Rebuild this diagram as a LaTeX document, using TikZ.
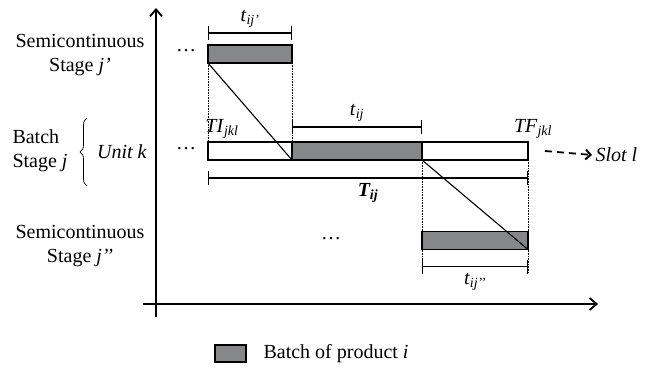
\documentclass[tikz,border=0pt]{standalone}
\usepackage{fontspec}
\setmainfont{Liberation Serif}
\usetikzlibrary{arrows.meta,decorations.pathreplacing,positioning}
\definecolor{batchgrey}{RGB}{133,135,136}
\newcommand{\sbs}[1]{\textsubscript{\textit{#1}}}

\begin{document}
\begin{tikzpicture}[x=1pt, y=1pt, font=\fontsize{20}{24}\selectfont,
    bar/.style={draw, line width=1.4pt, minimum height=18pt, inner sep=0pt, outer sep=0pt},
    span/.style={line width=1.4pt, {Bar[width=14pt]}-{Bar[width=14pt]}},
    guide/.style={densely dotted, line width=0.6pt},
    link/.style={line width=1.1pt},
    axis/.style={line width=1.8pt, -{Straight Barb[length=7pt, width=12pt, line width=1.8pt]}}]
  \useasboundingbox (0,0) rectangle (658,367);
  % axes
  \coordinate (ybot) at (156,50);
  \coordinate (ytop) at (156,359);
  \coordinate (xleft) at (143,63);
  \coordinate (xright) at (598,63);
  \draw[axis] (ybot) -- (ytop);
  \draw[axis] (xleft) -- (xright);
  % stage labels
  \node[align=center] (semitop) at (80,312) {Semicontinuous\\Stage \textit{j’}};
  \node[align=left] (batchst) at (40,216) {Batch\\Stage \textit{j}};
  \node[align=center] (semibot) at (80,121) {Semicontinuous\\Stage \textit{j’’}};
  \node (unit) at (122,215) {\textit{Unit k}};
  \draw[line width=0.7pt, decorate, decoration={brace, amplitude=7pt}]
    (87,181) -- (87,249);
  % bars
  \node[bar, fill=batchgrey, minimum width=84pt] (topbar) at (250,313) {};
  \node[bar, minimum width=84pt] (batchL) at (250,216) {};
  \node[bar, fill=batchgrey, minimum width=130pt] (batchM) at (357,216) {};
  \node[bar, minimum width=106pt] (batchR) at (475,216) {};
  \node[bar, fill=batchgrey, minimum width=106pt] (botbar) at (475,126.5) {};
  % dots
  \node (dotsA) at (186,316) {\dots};
  \node (dotsB) at (186,218) {\dots};
  \node (dotsC) at (331,128) {\dots};
  % guides
  \draw[guide] (topbar.south west) -- (batchL.north west);
  \draw[guide] (topbar.south east) -- (batchM.north west);
  \draw[guide] (batchM.south east) -- ([yshift=-24pt]botbar.south west);
  \draw[guide] (batchR.south east) -- ([yshift=-24pt]botbar.south east);
  % transfers
  \draw[link] (topbar.south west) -- (batchM.south west);
  \draw[link] (batchM.south east) -- (botbar.south east);
  % durations
  \draw[span] ([yshift=12pt]topbar.north west) -- ([yshift=12pt]topbar.north east)
    node[midway, above=1pt] (tj1) {\textit{t}\sbs{ij’}};
  \draw[span] ([yshift=15pt]batchM.north west) -- ([yshift=15pt]batchM.north east)
    node[midway, above=1pt] (tj) {\textit{t}\sbs{ij}};
  \draw[span] ([yshift=-18pt]batchL.south west) -- ([yshift=-18pt]batchR.south east)
    node[midway, below=1pt] (Tij) {\textbf{\textit{T\textsubscript{ij}}}};
  \draw[span] ([yshift=-17pt]botbar.south west) -- ([yshift=-17pt]botbar.south east)
    node[midway, below=3pt] (tj2) {\textit{t}\sbs{ij’’}};
  \node (ti) at (222,238) {\textit{TI}\sbs{jkl}};
  \node (tf) at (533,238) {\textit{TF}\sbs{jkl}};
  % slot
  \node[anchor=west] (slot) at (592,212) {\textit{Slot l}};
  \draw[line width=1.8pt, dash pattern=on 7pt off 5pt,
    -{Straight Barb[length=5pt, width=10pt, line width=2pt]}]
    ([xshift=17pt]batchR.east) -- (slot.west);
  % legend
  \node[bar, fill=batchgrey, minimum width=31pt, minimum height=17pt] (key) at (230.5,13.5) {};
  \node[right=14pt of key] (keytext) {Batch of product \textit{i}};
\end{tikzpicture}
\end{document}
